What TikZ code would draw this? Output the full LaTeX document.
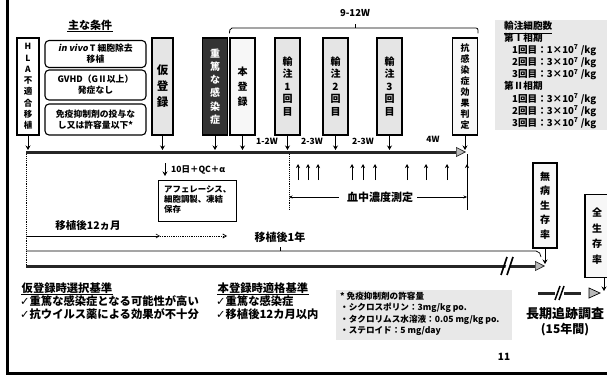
\documentclass[tikz,border=0pt]{standalone}
\usepackage{fontspec}
\setmainfont{Noto Sans CJK JP}
\newfontfamily\dejavu{DejaVu Sans}
\newfontfamily\slfont{Noto Sans CJK JP}[FakeSlant=0.2]
\usetikzlibrary{arrows.meta}
\newcommand{\fs}[2]{\fontsize{#1}{#2}\selectfont}
\newcommand{\ck}{{\dejavu\bfseries ✓}}
\begin{document}
\begin{tikzpicture}[x=1pt,y=-1pt,font=\bfseries,
  vbox/.style={draw, line width=1.1pt, inner sep=0pt, minimum width=24pt, minimum height=97pt, align=center},
  light/.style={fill=black!10},
  dark/.style={fill=black!80, text=white},
  cbox/.style={draw, line width=1.1pt, rounded corners=4pt, minimum width=101pt, inner sep=1pt, align=center, font=\bfseries\fs{8.8}{11}},
  dn/.style={-{Stealth[length=4.5pt,width=5pt]}, line width=1pt, shorten >=2pt},
  up/.style={-{Stealth[length=4pt,width=4pt]}, line width=0.9pt},
  thick line/.style={line width=3pt, draw=black!85},
  bigtip/.style={-{Triangle[length=10pt,width=10pt,fill=gray!55,line width=0.7pt]}},
  lbl/.style={inner sep=0pt, font=\bfseries\fs{8.5}{10}},
  txt/.style={inner sep=0pt, anchor=west, font=\bfseries\fs{11.3}{13}},
  uline/.style={line width=0.8pt}
]
\useasboundingbox (0,0) rectangle (607,377);
\clip (0,0) rectangle (607,377);

% frame
\draw[line width=3pt] (7,-2) -- (7,373) -- (610,373);

% heading
\node[inner sep=0.5pt, font=\bfseries\fs{11}{12}] (cond) at (90,25) {主な条件};
\draw[uline] (cond.south west) -- (cond.south east);

% boxes top row
\node[vbox, minimum width=22pt, font=\bfseries\fs{8.5}{11.3}] (hla) at (28,86.5) {H\\L\\A\\不\\適\\合\\移\\植};
\node[cbox, minimum height=27pt] (c1) at (95.5,54) {{\slfont\bfseries in vivo} T 細胞除去\\移植};
\node[cbox, minimum height=30pt] (c2) at (95.5,85) {GVHD（GⅡ以上）\\発症なし};
\node[cbox, minimum height=31pt] (c3) at (95.5,119.5) {免疫抑制剤の投与な\\し又は許容量以下*};
\node[vbox, light, minimum width=21pt, font=\bfseries\fs{11.5}{16}] (kari) at (162.5,86.5) {仮\\登\\録};
\node[vbox, dark, minimum width=25pt, font=\bfseries\fs{10}{13.2}] (jutoku) at (215,86.5) {重\\篤\\な\\感\\染\\症};
\node[vbox, fill=black!3, minimum width=25pt, font=\bfseries\fs{10}{15}] (hon) at (242.5,86.5) {本\\登\\録};
\node[vbox, light, minimum width=25pt, font=\bfseries\fs{10}{12.5}] (inf1) at (287.5,86.5) {輸\\注\\1\\回\\目};
\node[vbox, light, minimum width=25pt, font=\bfseries\fs{10}{12.5}] (inf2) at (335.5,86.5) {輸\\注\\2\\回\\目};
\node[vbox, light, minimum width=25pt, font=\bfseries\fs{10}{12.5}] (inf3) at (389.5,86.5) {輸\\注\\3\\回\\目};
\node[vbox, fill=black!3, minimum width=25pt, font=\bfseries\fs{9}{11}] (eff) at (465,86.5) {抗\\感\\染\\症\\効\\果\\判\\定};

% brace 9-12W
\draw[line width=0.8pt, rounded corners=2pt] ([yshift=4pt]hon.north west) -- (230,28) -- (478,28) -- ([yshift=4pt]eff.north east);
\draw[line width=0.8pt] (355,28) -- (355,24);
\node[lbl, font=\bfseries\fs{9.5}{10}] (w912) at (355,13) {9-12W};

% timeline
\coordinate (tlL) at (26,152);
\coordinate (tlR) at (466,152);
\draw[thick line, bigtip] (tlL) -- (tlR);
\foreach \n in {hla,kari,jutoku,hon,inf1,inf2,inf3,eff}
  \draw[dn] (\n.south) -- (\n.south |- tlL);

\node[lbl] (w1) at (267,141) {1-2W};
\node[lbl] (w2) at (312,141) {2-3W};
\node[lbl] (w3) at (363,141) {2-3W};
\node[lbl] (w4) at (433,139) {4W};

% below timeline
\coordinate (qa) at (165,163);
\draw[dn, shorten >=0pt] (qa) -- ++(0,13);
\node[lbl, anchor=west, font=\bfseries\fs{8.5}{10}] (qc) at (171,170) {10日＋QC＋α};
\node[draw, line width=1pt, anchor=north west, minimum width=78pt, minimum height=41pt, inner sep=0pt] (aph) at (158,180) {};
\node[anchor=north west, inner sep=0pt, align=left, font=\bfseries\fs{8.4}{10}] (apht) at (164,186) {アフェレーシス、\\細胞調製、凍結\\保存};

\coordinate (d1t) at (289,154);
\coordinate (d1b) at (289,210);
\draw[densely dotted, line width=0.9pt] (d1t) -- (d1b);
\coordinate (d2t) at (467,154);
\coordinate (d2b) at (467,210);
\draw[line width=0.8pt] (d2t) -- (d2b);
\foreach \x in {298,308,318,352,363,375,407,426,447,467}
  \draw[up] (\x,180) -- (\x,164);

\node[inner sep=0pt, font=\bfseries\fs{11}{12}] (blood) at (380,197) {血中濃度測定};
\draw[-{Stealth[length=3.5pt,width=3pt]}, line width=0.6pt, shorten <=8pt] (blood.west) -- (blood.west -| d1t);
\draw[-{Stealth[length=3.5pt,width=3pt]}, line width=0.6pt, shorten <=4pt] (blood.east) -- (blood.east -| d2t);

% 12 months
\coordinate (vL1) at (26,154);
\coordinate (vL2) at (26,266);
\draw[densely dotted, line width=0.9pt] (vL1) -- (vL2);
\node[inner sep=0pt, font=\bfseries\fs{10.5}{12}] (m12) at (88,226) {移植後12ヵ月};
\coordinate (a1) at (26,236);
\coordinate (a2) at (160,236);
\coordinate (a3) at (227,236);
\draw[-{Straight Barb[length=3.5pt,width=4pt]}, line width=0.6pt] (a1) -- (a2);
\draw[densely dotted, -{Straight Barb[length=3.5pt,width=4pt]}, line width=0.8pt] (a2) -- (a3);
\node[inner sep=0pt, font=\bfseries\fs{11}{12}] (y1) at (280,237) {移植後1年};

% outcome boxes
\node[vbox, fill=black!3, minimum width=24pt, minimum height=85pt, font=\bfseries\fs{10}{14.5}] (dfs) at (545,205.5) {無\\病\\生\\存\\率};
\node[vbox, fill=black!3, minimum width=24pt, minimum height=83pt, font=\bfseries\fs{10}{15.5}] (os) at (597,236) {全\\生\\存\\率};

\coordinate (t1) at (26,251);
\coordinate (t2) at (536,251);
\coordinate (t3) at (541,257);
\draw[line width=0.7pt] (t1) -- (t2) to[out=0,in=90] (t3);
\draw[line width=0.6pt] (280,247) -- (280,251);

\coordinate (k1) at (26,266);
\coordinate (k2) at (545,266);
\draw[thick line, bigtip] (k1) -- (k2);
\fill[white] (503,275) -- (509,257) -- (513,257) -- (507,275) -- cycle;
\draw[line width=1.6pt] (501,275) -- (507,257) (507,275) -- (513,257);
\draw[dn] (dfs.south) -- (dfs.south |- k2);

% long-term follow up
\coordinate (os1) at (604,277.5);
\draw[dn, shorten >=0pt] (os1) -- (604,291);
\coordinate (b1) at (538,293);
\coordinate (b2) at (555,293);
\coordinate (b3) at (564,293);
\coordinate (b4) at (581,293);
\draw[thick line] (b1) -- (b2) (b3) -- (b4);
\draw[line width=1.5pt] (555,300) -- (560,286) (559,300) -- (564,286);
\draw[fill=gray!55, line width=0.7pt] (589,288) -- (600,293) -- (589,298) -- cycle;
\node[inner sep=0pt, font=\bfseries\fs{13}{14}] (lt1) at (565,314) {長期追跡調査};
\node[inner sep=0pt, font=\bfseries\fs{12}{13}] (lt2) at (565,330) {(15年間)};

% criteria text
\node[txt, inner sep=0.5pt] (kc) at (21,288) {仮登録時選択基準};
\draw[uline] (kc.south west) -- (kc.south east);
\node[txt] (kc1) at (20,301) {\ck 重篤な感染症となる可能性が高い};
\node[txt] (kc2) at (20,314) {\ck 抗ウイルス薬による効果が不十分};
\node[txt, inner sep=0.5pt] (hc) at (217,288) {本登録時適格基準};
\draw[uline] (hc.south west) -- (hc.south east);
\node[txt] (hc1) at (216,301) {\ck 重篤な感染症};
\node[txt] (hc2) at (216,314) {\ck 移植後12カ月以内};

% footnote box
\node[fill=black!9, anchor=north west, minimum width=176pt, minimum height=50pt, inner sep=0pt] (fnb) at (336,290) {};
\node[anchor=north west, inner sep=0pt, align=left, font=\bfseries\fs{8.6}{11.2}] (fn) at (340,292) {* 免疫抑制剤の許容量\\・シクロスポリン：3mg/kg po.\\・タクロリムス水溶液：0.05 mg/kg po.\\・ステロイド：5 mg/day};

\node[inner sep=0pt, font=\bfseries\fs{10}{11}] (pg) at (504,357) {11};

% dose block
\node[fill=black!9, anchor=north west, minimum width=115pt, minimum height=110pt, inner sep=0pt] (doseb) at (495,20) {};
\node[anchor=north west, inner sep=0pt, align=left, font=\bfseries\fs{9.6}{12.1}] (dose) at (504,21) {輸注細胞数\\第Ⅰ相期\\\hspace*{8pt}1回目：1×10\textsuperscript{7} /kg\\\hspace*{8pt}2回目：3×10\textsuperscript{7} /kg\\\hspace*{8pt}3回目：3×10\textsuperscript{7} /kg\\第Ⅱ相期\\\hspace*{8pt}1回目：3×10\textsuperscript{7} /kg\\\hspace*{8pt}2回目：3×10\textsuperscript{7} /kg\\\hspace*{8pt}3回目：3×10\textsuperscript{7} /kg};
\draw[uline] (504,33) -- (552,33);
\end{tikzpicture}
\end{document}
